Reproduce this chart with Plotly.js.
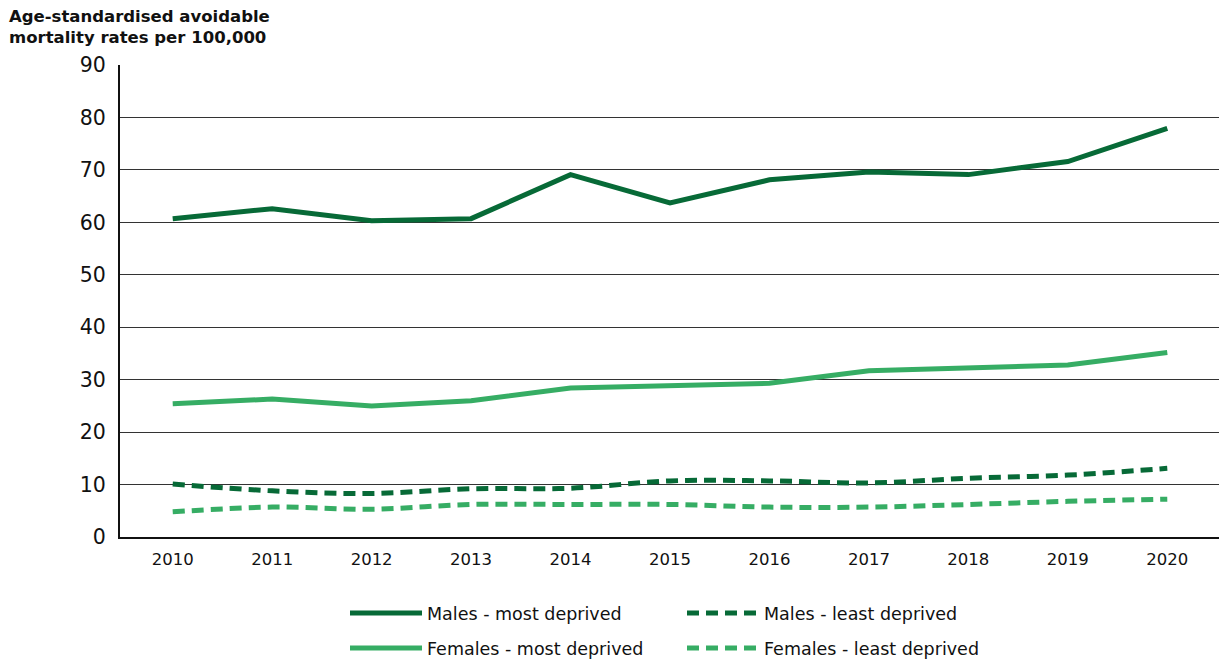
<!DOCTYPE html>
<html>
<head>
<meta charset="utf-8">
<script src="https://cdn.plot.ly/plotly-3.0.1.min.js"></script>
<style>html,body{margin:0;padding:0;background:#fff;}#chart{width:1219px;height:662px;}</style>
</head>
<body>
<div id="chart"></div>
<script>
const years = [2010, 2011, 2012, 2013, 2014, 2015, 2016, 2017, 2018, 2019, 2020];
const malesMost = [60.7, 62.6, 60.3, 60.7, 69.1, 63.7, 68.1, 69.6, 69.1, 71.6, 77.9];
const malesLeast = [10.1, 8.8, 8.3, 9.2, 9.3, 10.7, 10.7, 10.3, 11.2, 11.8, 13.1];
const femalesMost = [25.4, 26.3, 25.0, 26.0, 28.4, 28.8, 29.3, 31.7, 32.2, 32.8, 35.2];
const femalesLeast = [4.8, 5.7, 5.3, 6.2, 6.2, 6.2, 5.7, 5.7, 6.2, 6.8, 7.2];
const seriesNames = ["Males - most deprived", "Males - least deprived", "Females - most deprived", "Females - least deprived"];
const yTicks = [0, 10, 20, 30, 40, 50, 60, 70, 80, 90];

const dark = "#076a37";
const light = "#36ad64";
const FONT = "'DejaVu Sans', 'Noto Sans', sans-serif";

const traces = [
  {x: years, y: malesMost, name: seriesNames[0], mode: "lines", legend: "legend", line: {color: dark, width: 5}},
  {x: years, y: malesLeast, name: seriesNames[1], mode: "lines", legend: "legend", line: {color: dark, width: 5, dash: "12px,7px", shape: "spline"}},
  {x: years, y: femalesMost, name: seriesNames[2], mode: "lines", legend: "legend2", line: {color: light, width: 5}},
  {x: years, y: femalesLeast, name: seriesNames[3], mode: "lines", legend: "legend2", line: {color: light, width: 5, dash: "12px,7px", shape: "spline"}}
];

const legendCommon = {
  orientation: "h", xref: "paper", yref: "paper", xanchor: "left", yanchor: "middle",
  entrywidth: 250, entrywidthmode: "pixels", itemwidth: 72,
  font: {size: 17.5, color: "#111", family: FONT}, traceorder: "normal", bgcolor: "rgba(0,0,0,0)"
};

const layout = {
  width: 1219, height: 662,
  margin: {l: 120, r: 0, t: 65, b: 125, autoexpand: false},
  paper_bgcolor: "#fff", plot_bgcolor: "#fff",
  font: {family: FONT, color: "#111"},
  showlegend: true,
  legend: Object.assign({}, legendCommon, {x: (345 - 120) / 1099, y: (537 - 613) / 472}),
  legend2: Object.assign({}, legendCommon, {x: (345 - 120) / 1099, y: (537 - 648) / 472}),
  xaxis: {
    range: [2009.47, 2020.52], tickvals: years, ticktext: years.map(String),
    showgrid: false, zeroline: false, showline: true, linecolor: "#111", linewidth: 2,
    ticks: "", tickfont: {size: 16.5, family: FONT}, ticklabelstandoff: 6, fixedrange: true
  },
  yaxis: {
    range: [0, 90], tickvals: yTicks, showgrid: true, gridcolor: "#333", gridwidth: 1,
    zeroline: false, showline: true, linecolor: "#111", linewidth: 2,
    ticks: "", tickfont: {size: 20.5, family: FONT}, ticklabelstandoff: 8, fixedrange: true
  },
  annotations: [{
    text: "Age-standardised avoidable<br>mortality rates per 100,000",
    xref: "paper", yref: "paper", x: -113/1099, y: 1 + 60/472, xanchor: "left", yanchor: "top",
    showarrow: false, align: "left", font: {size: 16.5, color: "#111", family: FONT, weight: 600}
  }]
};

Plotly.newPlot("chart", traces, layout, {displayModeBar: false, staticPlot: true});
</script>
</body>
</html>
